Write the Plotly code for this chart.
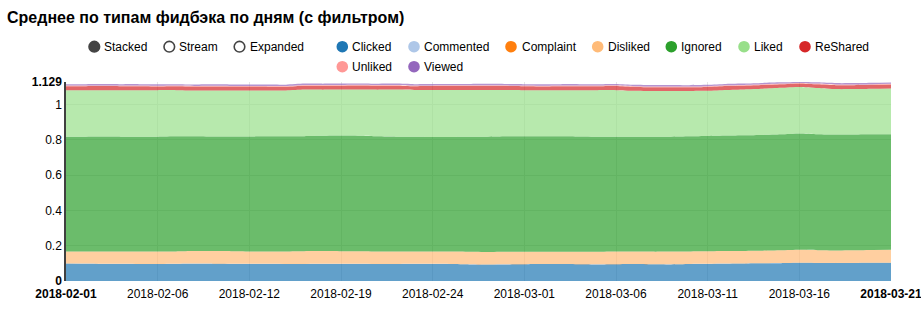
import plotly.graph_objects as go

dates = (["2018-02-01", "2018-02-02", "2018-02-03", "2018-02-04", "2018-02-05", "2018-02-06",
          "2018-02-07", "2018-02-08", "2018-02-10", "2018-02-11", "2018-02-12",
          "2018-02-13", "2018-02-14", "2018-02-17", "2018-02-18", "2018-02-19",
          "2018-02-20", "2018-02-21", "2018-02-22", "2018-02-23", "2018-02-24",
          "2018-02-25", "2018-02-26", "2018-02-27", "2018-02-28",
          "2018-03-01", "2018-03-02", "2018-03-03", "2018-03-04", "2018-03-05",
          "2018-03-06", "2018-03-07", "2018-03-08", "2018-03-09", "2018-03-10",
          "2018-03-11", "2018-03-12", "2018-03-13", "2018-03-14", "2018-03-15",
          "2018-03-16", "2018-03-17", "2018-03-18", "2018-03-19", "2018-03-20",
          "2018-03-21"])

series_names = ["Clicked", "Commented", "Complaint", "Disliked", "Ignored",
                "Liked", "ReShared", "Unliked", "Viewed"]
series_colors = ["#1f77b4", "#aec7e8", "#ff7f0e", "#ffbb78", "#2ca02c",
                 "#98df8a", "#d62728", "#ff9896", "#9467bd"]

clicked = [0.099, 0.098, 0.097, 0.097, 0.096, 0.096, 0.097, 0.098, 0.098, 0.097,
           0.097, 0.097, 0.096, 0.096, 0.097, 0.097, 0.097, 0.096, 0.096, 0.097,
           0.097, 0.096, 0.094, 0.093, 0.094, 0.095, 0.096, 0.096, 0.095, 0.094,
           0.095, 0.096, 0.095, 0.094, 0.096, 0.097, 0.098, 0.099, 0.100, 0.101,
           0.103, 0.102, 0.102, 0.102, 0.103, 0.103]
commented = [0.0006, 0.0006, 0.0005, 0.0006, 0.0006, 0.0005, 0.0006, 0.0006, 0.0005, 0.0006,
             0.0006, 0.0005, 0.0006, 0.0006, 0.0005, 0.0006, 0.0006, 0.0005, 0.0006, 0.0006,
             0.0005, 0.0006, 0.0006, 0.0005, 0.0006, 0.0006, 0.0005, 0.0006, 0.0006, 0.0005,
             0.0006, 0.0006, 0.0005, 0.0006, 0.0006, 0.0005, 0.0006, 0.0006, 0.0005, 0.0006,
             0.0005, 0.0006, 0.0005, 0.0006, 0.0006, 0.0005]
complaint = [0.0003, 0.0003, 0.0002, 0.0003, 0.0003, 0.0002, 0.0003, 0.0003, 0.0002, 0.0003,
             0.0003, 0.0002, 0.0003, 0.0003, 0.0002, 0.0003, 0.0003, 0.0002, 0.0003, 0.0003,
             0.0002, 0.0003, 0.0003, 0.0002, 0.0003, 0.0003, 0.0002, 0.0003, 0.0003, 0.0002,
             0.0003, 0.0003, 0.0002, 0.0003, 0.0003, 0.0002, 0.0003, 0.0003, 0.0002, 0.0003,
             0.0003, 0.0003, 0.0002, 0.0003, 0.0003, 0.0002]
disliked = [0.068, 0.068, 0.069, 0.069, 0.070, 0.070, 0.070, 0.071, 0.071, 0.071,
            0.070, 0.070, 0.071, 0.072, 0.072, 0.071, 0.071, 0.071, 0.070, 0.069,
            0.069, 0.070, 0.071, 0.071, 0.071, 0.070, 0.069, 0.069, 0.070, 0.071,
            0.071, 0.071, 0.071, 0.072, 0.071, 0.071, 0.071, 0.071, 0.071, 0.072,
            0.073, 0.072, 0.071, 0.071, 0.072, 0.073]
ignored = [0.651, 0.652, 0.653, 0.652, 0.651, 0.652, 0.653, 0.651, 0.650, 0.651,
           0.652, 0.653, 0.654, 0.653, 0.654, 0.656, 0.655, 0.653, 0.652, 0.651,
           0.650, 0.650, 0.652, 0.654, 0.655, 0.656, 0.656, 0.655, 0.654, 0.653,
           0.652, 0.651, 0.651, 0.652, 0.653, 0.654, 0.655, 0.656, 0.657, 0.658,
           0.660, 0.658, 0.657, 0.657, 0.656, 0.656]
liked = [0.264, 0.264, 0.263, 0.264, 0.265, 0.264, 0.262, 0.260, 0.261, 0.261,
         0.261, 0.260, 0.259, 0.264, 0.262, 0.261, 0.262, 0.265, 0.267, 0.266,
         0.267, 0.267, 0.266, 0.265, 0.263, 0.261, 0.261, 0.262, 0.263, 0.264,
         0.264, 0.260, 0.260, 0.259, 0.257, 0.256, 0.259, 0.260, 0.262, 0.264,
         0.264, 0.262, 0.258, 0.258, 0.259, 0.260]
reshared = [0.022, 0.022, 0.023, 0.022, 0.022, 0.021, 0.022, 0.022, 0.023, 0.022,
            0.022, 0.022, 0.021, 0.022, 0.022, 0.022, 0.023, 0.022, 0.022, 0.021,
            0.022, 0.022, 0.022, 0.023, 0.022, 0.022, 0.021, 0.022, 0.022, 0.022,
            0.023, 0.022, 0.022, 0.022, 0.021, 0.022, 0.022, 0.021, 0.021, 0.020,
            0.020, 0.021, 0.022, 0.022, 0.022, 0.022]
unliked = [0.004, 0.004, 0.004, 0.004, 0.004, 0.004, 0.004, 0.004, 0.004, 0.004,
           0.004, 0.004, 0.004, 0.004, 0.004, 0.004, 0.004, 0.004, 0.004, 0.004,
           0.004, 0.004, 0.004, 0.004, 0.004, 0.004, 0.004, 0.004, 0.004, 0.004,
           0.004, 0.004, 0.004, 0.004, 0.004, 0.004, 0.004, 0.004, 0.004, 0.004,
           0.003, 0.004, 0.004, 0.004, 0.004, 0.004]
viewed = [0.008, 0.008, 0.008, 0.008, 0.008, 0.008, 0.008, 0.008, 0.008, 0.008,
          0.008, 0.008, 0.008, 0.008, 0.008, 0.008, 0.008, 0.008, 0.008, 0.008,
          0.008, 0.008, 0.008, 0.008, 0.008, 0.008, 0.008, 0.008, 0.008, 0.008,
          0.008, 0.008, 0.008, 0.008, 0.008, 0.008, 0.008, 0.008, 0.008, 0.007,
          0.005, 0.007, 0.008, 0.008, 0.008, 0.008]

series_values = [clicked, commented, complaint, disliked, ignored, liked,
                 reshared, unliked, viewed]

y_max = 1.129
y_tick_vals = [0, 0.2, 0.4, 0.6, 0.8, 1, 1.129]
y_tick_text = ["<b>0</b>", "0.2", "0.4", "0.6", "0.8", "1", "<b>1.129</b>"]
x_tick_vals = [dates[i] for i in range(0, 46, 5)]
x_tick_text = ["<b>2018-02-01</b>", "2018-02-06", "2018-02-12", "2018-02-19",
               "2018-02-24", "2018-03-01", "2018-03-06", "2018-03-11",
               "2018-03-16", "<b>2018-03-21</b>"]

control_labels = ["Stacked", "Stream", "Expanded"]

W, H = 921, 309
ML, MR, MT, MB = 66, 30, 82, 28
PW, PH = W - ML - MR, H - MT - MB


def hex_rgba(h, a):
    h = h.lstrip("#")
    return "rgba(%d,%d,%d,%s)" % (int(h[0:2], 16), int(h[2:4], 16), int(h[4:6], 16), a)


def px(x):
    return (x - ML) / PW


def py(y):
    return (H - MB - y) / PH


fig = go.Figure()
for name, col, vals in zip(series_names, series_colors, series_values):
    fig.add_trace(go.Scatter(
        x=dates, y=vals, name=name, stackgroup="one", mode="lines",
        line=dict(width=0, shape="spline", smoothing=0.6, color=col),
        fillcolor=hex_rgba(col, 0.7), showlegend=False,
    ))

shapes = []
annotations = []
FONT = "Arial, Liberation Sans, sans-serif"

# controls
ctrl_pos = [(94.3, 101.5), (169.3, 177), (239.5, 247.5)]
for i, (lab, (cx, tx)) in enumerate(zip(control_labels, ctrl_pos)):
    filled = i == 0
    shapes.append(dict(type="circle", xref="paper", yref="paper",
                       xsizemode="pixel", ysizemode="pixel",
                       xanchor=px(cx), yanchor=py(46.7),
                       x0=-5.3, x1=5.3, y0=-5.3, y1=5.3,
                       fillcolor="#444444" if filled else "white",
                       line=dict(color="#444444", width=1.6)))
    annotations.append(dict(text=lab, xref="paper", yref="paper",
                            x=px(tx), y=py(46.7), xanchor="left", yanchor="middle",
                            showarrow=False, font=dict(size=12, color="#000", family=FONT)))

# series legend
leg_pos = [(342.3, 350, 46.7), (414, 422, 46.7), (511, 519.5, 46.7), (597.7, 605.7, 46.7),
           (671.3, 679, 46.7), (744, 752, 46.7), (805, 813, 46.7),
           (342.3, 350, 66.7), (414, 422, 66.7)]
for name, col, (cx, tx, cy) in zip(series_names, series_colors, leg_pos):
    shapes.append(dict(type="circle", xref="paper", yref="paper",
                       xsizemode="pixel", ysizemode="pixel",
                       xanchor=px(cx), yanchor=py(cy),
                       x0=-5.8, x1=5.8, y0=-5.8, y1=5.8,
                       fillcolor=col, line=dict(color=col, width=0)))
    annotations.append(dict(text=name, xref="paper", yref="paper",
                            x=px(tx), y=py(cy), xanchor="left", yanchor="middle",
                            showarrow=False, font=dict(size=12, color="#000", family=FONT)))

fig.update_layout(
    width=W, height=H,
    margin=dict(l=ML, r=MR, t=MT, b=MB, pad=0, autoexpand=False),
    paper_bgcolor="white", plot_bgcolor="white",
    font=dict(family=FONT, size=12, color="#000"),
    title=dict(text="<b>Среднее по типам фидбэка по дням (с фильтром)</b>",
               xref="container", yref="container", x=7 / W, xanchor="left",
               y=1 - 17 / H, yanchor="middle",
               font=dict(size=16, color="#000", family=FONT)),
    showlegend=False,
    shapes=shapes, annotations=annotations,
    hovermode=False,
)
fig.update_xaxes(type="category", range=[0, len(dates) - 1], automargin=False,
                 tickmode="array", tickvals=x_tick_vals, ticktext=x_tick_text,
                 showgrid=True, gridcolor="#e5e5e5", gridwidth=1,
                 showline=False, zeroline=False, ticks="", tickangle=0,
                 ticklabelstandoff=4,
                 tickfont=dict(size=12, color="#000"))
fig.update_yaxes(range=[0, y_max], tickmode="array", tickvals=y_tick_vals,
                 ticktext=y_tick_text, showgrid=True, gridcolor="#e5e5e5",
                 gridwidth=1, zeroline=False, showline=True, automargin=False,
                 linecolor="rgba(0,0,0,0.75)", linewidth=1.5, ticks="",
                 tickfont=dict(size=12, color="#000"))

fig.write_html("out.html")
